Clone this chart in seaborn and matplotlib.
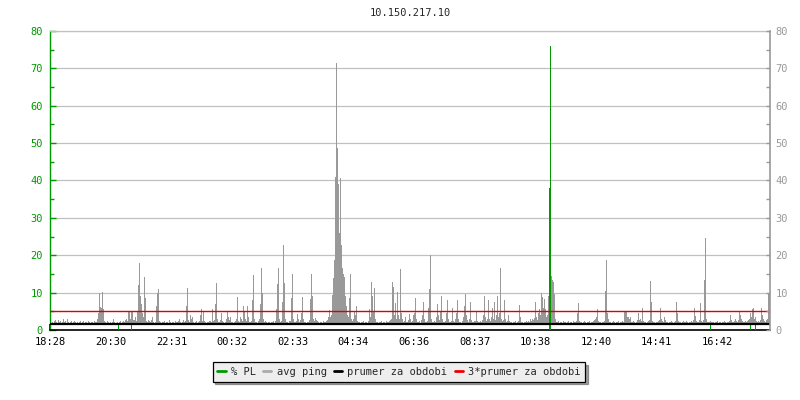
"""Ping / packet loss chart for 10.150.217.10 over one day."""
import matplotlib
matplotlib.use("Agg")
import matplotlib.pyplot as plt
from matplotlib.lines import Line2D
import numpy as np
import seaborn as sns

title = "10.150.217.10"
step_min = 2  # one sample every 2 minutes, 720 samples = 24 h

# avg ping, one value per sample, 20 samples per row (40 minutes)
avg_ping = [
    2.1, 2.0, 2.2, 1.9, 2.3, 2.6, 2.2, 2.0, 2.8, 2.1, 2.4, 2.0, 2.2, 3.0, 2.1, 2.3, 2.0, 2.9, 2.2, 2.0,
    2.1, 2.3, 2.0, 2.2, 2.5, 2.1, 2.0, 2.2, 1.9, 2.1, 2.3, 2.0, 2.1, 2.4, 2.0, 2.2, 2.1, 2.0, 2.3, 2.1,
    2.0, 2.2, 2.1, 2.0, 2.3, 2.1, 2.2, 3.0, 4.5, 9.8, 6.2, 6.0, 10.3, 5.5, 2.5, 2.2, 2.0, 2.3, 2.1, 2.0,
    2.1, 2.0, 2.2, 3.0, 2.1, 2.0, 1.9, 2.2, 2.0, 2.1, 2.3, 2.0, 2.2, 2.4, 2.1, 2.6, 3.0, 2.4, 5.0, 4.8,
    3.0, 5.2, 4.9, 2.6, 2.8, 3.5, 2.4, 5.0, 12.0, 17.8, 9.0, 7.0, 4.5, 3.5, 14.3, 8.5, 2.5, 2.2, 2.6, 2.3,
    2.1, 2.8, 3.4, 2.2, 2.0, 2.1, 6.5, 9.8, 10.9, 2.5, 2.1, 2.0, 2.2, 2.1, 2.3, 2.0, 2.1, 2.2, 2.0, 2.8,
    2.1, 2.0, 2.2, 2.1, 2.0, 2.3, 2.1, 2.2, 2.4, 3.0, 2.1, 2.0, 2.2, 2.6, 2.1, 2.3, 6.3, 11.2, 2.8, 2.2,
    4.0, 3.0, 3.4, 2.2, 2.0, 2.1, 2.3, 2.0, 2.2, 2.5, 4.0, 5.7, 2.5, 5.2, 2.3, 2.1, 2.0, 2.2, 2.1, 2.3,
    2.4, 2.2, 5.7, 2.5, 2.6, 7.0, 12.7, 3.0, 2.2, 2.1, 2.6, 4.5, 2.5, 2.1, 2.0, 2.2, 3.0, 4.7, 3.5, 2.8,
    3.5, 2.2, 2.1, 2.0, 2.2, 2.4, 3.0, 8.7, 2.5, 2.2, 3.5, 3.0, 2.4, 6.4, 5.0, 3.0, 2.3, 6.4, 3.5, 2.2,
    2.1, 2.3, 8.0, 14.6, 3.0, 2.2, 2.1, 2.0, 2.3, 3.0, 7.0, 16.5, 9.8, 3.0, 2.2, 2.4, 2.1, 2.0, 2.2, 2.1,
    2.0, 2.2, 2.1, 2.3, 2.0, 2.4, 5.6, 12.2, 16.7, 3.0, 2.2, 2.5, 7.5, 22.8, 12.5, 3.0, 2.2, 2.1, 2.0, 2.3,
    2.4, 8.5, 15.1, 3.0, 2.2, 2.1, 2.3, 4.2, 3.0, 2.2, 2.6, 4.5, 8.8, 3.0, 2.2, 2.1, 2.0, 2.2, 2.1, 2.6,
    8.4, 15.0, 9.2, 3.0, 2.4, 3.2, 2.6, 2.5, 2.1, 2.0, 2.2, 2.1, 2.0, 2.3, 2.1, 2.2, 2.4, 2.8, 3.5, 5.4,
    3.5, 4.0, 9.4, 14.0, 18.8, 41.0, 71.4, 48.8, 39.0, 25.9, 40.7, 22.8, 16.5, 15.0, 14.3, 9.0, 6.5, 4.0, 3.5, 8.5,
    15.0, 3.0, 2.4, 3.0, 4.7, 4.0, 6.3, 2.5, 2.2, 2.1, 2.0, 2.2, 2.1, 2.3, 2.0, 2.1, 2.2, 2.0, 2.4, 5.6,
    3.5, 12.8, 9.2, 5.0, 11.2, 3.0, 2.2, 2.1, 2.0, 2.2, 2.1, 2.3, 2.0, 2.1, 2.2, 2.0, 2.3, 2.1, 2.2, 2.4,
    2.6, 3.0, 12.8, 11.6, 4.0, 7.2, 3.0, 10.1, 4.0, 3.0, 16.4, 4.5, 3.0, 2.2, 2.4, 3.5, 2.2, 2.1, 2.6, 4.4,
    3.0, 2.2, 2.5, 4.0, 4.5, 8.5, 3.0, 2.2, 2.1, 2.3, 2.0, 2.6, 4.0, 7.5, 3.0, 2.2, 2.1, 2.4, 6.0, 11.0,
    20.0, 3.0, 2.2, 2.1, 2.3, 2.2, 3.5, 7.0, 4.0, 2.6, 5.0, 9.0, 3.0, 2.2, 2.1, 2.4, 4.5, 8.0, 3.0, 2.2,
    2.1, 2.3, 6.0, 2.5, 2.1, 3.0, 4.5, 8.0, 3.0, 2.2, 2.1, 2.0, 2.4, 3.5, 6.5, 9.5, 4.0, 2.6, 2.2, 3.0,
    7.5, 2.6, 2.2, 2.1, 2.3, 2.5, 5.0, 2.4, 2.2, 2.1, 2.3, 2.2, 2.6, 4.0, 9.0, 3.5, 2.4, 3.0, 8.0, 3.0,
    2.4, 3.5, 6.0, 3.0, 7.5, 2.6, 4.0, 9.0, 3.5, 4.5, 16.6, 3.0, 2.4, 2.6, 8.0, 3.0, 2.2, 2.4, 4.0, 2.3,
    2.2, 2.1, 2.0, 2.2, 2.1, 2.3, 2.0, 2.2, 2.4, 6.6, 3.5, 2.2, 2.1, 2.0, 2.2, 2.1, 2.3, 2.2, 2.5, 2.2,
    3.0, 2.4, 3.0, 2.6, 3.2, 7.5, 3.5, 2.8, 4.5, 5.5, 4.0, 9.9, 8.8, 6.0, 8.3, 5.5, 3.5, 4.0, 9.0, 3.0,
    3.0, 14.4, 13.5, 12.9, 9.5, 3.0, 2.2, 2.1, 2.3, 2.0, 2.2, 2.1, 2.0, 2.4, 2.1, 2.2, 2.0, 2.1, 2.3, 2.0,
    2.2, 2.1, 2.0, 2.3, 2.1, 2.2, 2.4, 4.5, 7.3, 2.5, 2.2, 2.1, 2.0, 2.2, 2.3, 2.1, 2.0, 2.2, 2.1, 2.3,
    2.0, 2.2, 2.1, 2.3, 2.6, 3.0, 3.5, 5.6, 2.5, 2.2, 2.1, 2.0, 2.2, 2.1, 2.4, 10.4, 18.6, 4.5, 3.0, 2.2,
    2.1, 2.0, 2.2, 2.3, 2.1, 2.0, 2.2, 2.1, 2.3, 2.0, 2.2, 2.1, 2.4, 2.2, 4.9, 4.9, 4.9, 3.5, 3.5, 3.0,
    3.5, 2.2, 2.1, 2.4, 2.2, 2.0, 2.2, 2.6, 4.5, 2.6, 3.0, 2.4, 5.8, 2.5, 2.2, 2.1, 2.0, 2.2, 2.3, 2.6,
    13.0, 7.4, 2.5, 2.2, 2.1, 2.0, 2.2, 2.1, 2.3, 2.6, 5.9, 3.0, 2.4, 2.2, 3.5, 2.6, 2.2, 2.1, 2.0, 2.2,
    2.1, 2.3, 2.2, 2.0, 2.2, 2.4, 7.4, 4.5, 2.4, 2.2, 2.1, 2.0, 2.2, 2.3, 2.1, 2.2, 2.4, 2.1, 2.0, 2.2,
    2.1, 2.3, 2.2, 2.6, 5.9, 3.8, 2.4, 2.2, 2.1, 2.6, 7.2, 2.5, 2.2, 2.6, 13.3, 24.6, 3.0, 2.2, 2.1, 2.2,
    2.3, 2.2, 2.1, 2.2, 2.0, 2.2, 2.1, 2.3, 2.0, 2.2, 2.1, 2.0, 2.2, 2.1, 2.3, 2.2, 2.0, 2.1, 2.2, 2.4,
    4.0, 2.6, 2.2, 2.1, 2.3, 3.0, 2.4, 2.2, 2.6, 5.0, 4.0, 3.0, 2.4, 2.2, 2.1, 2.3, 2.2, 2.4, 2.6, 3.0,
    4.5, 3.5, 5.6, 6.0, 3.0, 3.5, 2.5, 2.2, 2.4, 2.2, 2.6, 5.8, 4.0, 3.0, 2.4, 2.2, 2.6, 3.0, 9.6, 9.6,
]

# packet loss, only the samples where it was not zero (minutes from start, %)
pl_minutes = [136, 162, 998, 1000, 1320, 1400, 1410]
pl_values = [1.5, 1.5, 37.9, 76.0, 1.5, 1.5, 1.5]

prumer = 1.68  # average over the period

tick_minutes = [0, 122, 243, 364, 485, 606, 728, 849, 970, 1092, 1213, 1334]
tick_labels = ["18:28", "20:30", "22:31", "00:32", "02:33", "04:34",
               "06:36", "08:37", "10:38", "12:40", "14:41", "16:42"]

GREEN = "#009900"
GRAY = "#999999"
GRID = "#c0c0c0"
RED = "#dd0000"

sns.set_style("white")
plt.rcParams["font.family"] = ["DejaVu Sans Mono"]
plt.rcParams["font.size"] = 7.5

fig = plt.figure(figsize=(8, 4), dpi=100)
ax = fig.add_axes([50 / 800, 1 - 330 / 400, 720 / 800, 299 / 400])

minutes = np.arange(len(avg_ping)) * step_min
ax.bar(minutes, avg_ping, width=step_min, align="edge", color=GRAY,
       linewidth=0, zorder=1)
# white strip along the time axis hides the very bottom of the bars
ax.axhspan(0, 1.35, color="white", zorder=2, linewidth=0)
ax.bar(pl_minutes, pl_values, width=step_min, align="edge", color=GREEN,
       linewidth=0, zorder=3)
ax.axhline(prumer, color="black", linewidth=1.6, zorder=4)
ax.axhline(3 * prumer, color=RED, linewidth=1.0, zorder=4)

ax.set_xlim(0, 1440)
ax.set_ylim(0, 80)
ax.set_yticks(np.arange(0, 81, 10))
ax.set_yticks(np.arange(5, 80, 10), minor=True)
ax.yaxis.grid(True, color=GRID, linewidth=0.9, zorder=0)
ax.set_axisbelow(True)
ax.set_xticks(tick_minutes)
ax.set_xticklabels(tick_labels)

ax.tick_params(axis="y", which="major", direction="in", length=4, width=1,
               color=GREEN, labelcolor=GREEN, pad=5)
ax.tick_params(axis="y", which="minor", direction="in", length=3, width=1,
               color=GREEN, left=True)
ax.tick_params(axis="x", direction="in", length=4, width=1.2,
               color="black", labelcolor="black", pad=5, bottom=True)

ax.spines["left"].set_color(GREEN)
ax.spines["left"].set_linewidth(1.0)
ax.spines["bottom"].set_color("black")
ax.spines["bottom"].set_linewidth(1.2)
ax.spines["top"].set_color(GRID)
ax.spines["top"].set_linewidth(0.9)
ax.spines["right"].set_visible(False)

ax2 = ax.twinx()
ax2.set_ylim(0, 80)
ax2.set_yticks(np.arange(0, 81, 10))
ax2.set_yticks(np.arange(5, 80, 10), minor=True)
ax2.tick_params(axis="y", which="major", direction="in", length=3, width=1,
                color=GRAY, labelcolor=GRAY, pad=4)
ax2.tick_params(axis="y", which="minor", direction="in", length=3, width=1,
                color=GRAY, right=True)
for side in ["left", "top", "bottom"]:
    ax2.spines[side].set_visible(False)
ax2.spines["right"].set_color(GRAY)
ax2.spines["right"].set_linewidth(1.2)

fig.text(410 / 800, 1 - 13 / 400, title, ha="center", va="center",
         fontsize=7.5)

handles = [
    Line2D([], [], color=GREEN, linewidth=2),
    Line2D([], [], color="#aaaaaa", linewidth=2),
    Line2D([], [], color="black", linewidth=2),
    Line2D([], [], color="#ee0000", linewidth=2),
]
labels = ["% PL", "avg ping", "prumer za obdobi", "3*prumer za obdobi"]
leg = fig.legend(handles, labels, loc="center", ncol=4,
                 bbox_to_anchor=(399 / 800, 1 - 372 / 400),
                 frameon=True, fancybox=False, shadow=True,
                 handlelength=0.8, handletextpad=0.5, columnspacing=0.7,
                 borderpad=0.45, fontsize=7.5)
leg.get_frame().set_edgecolor("black")
leg.get_frame().set_facecolor("#eeeeee")
leg.get_frame().set_alpha(1)
leg.get_frame().set_linewidth(0.9)

fig.savefig("out.png", dpi=100)
